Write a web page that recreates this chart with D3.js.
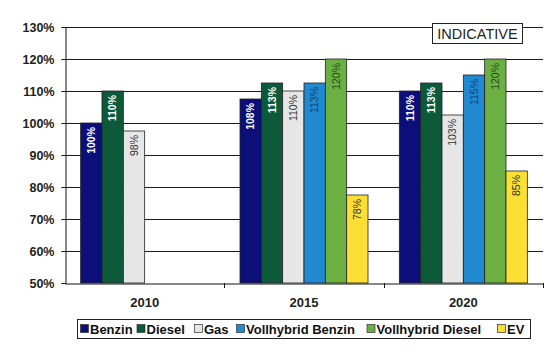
<!DOCTYPE html>
<html><head><meta charset="utf-8">
<script src="https://cdn.jsdelivr.net/npm/d3@7"></script>
<style>body{margin:0;background:#fff}svg{display:block;font-family:Arial,"Liberation Sans",sans-serif}</style>
</head><body><svg id="c" width="560" height="357"></svg>
<script>
const categories = ["2010","2015","2020"];
const seriesNames = ["Benzin","Diesel","Gas","Vollhybrid Benzin","Vollhybrid Diesel","EV"];
const benzin = [100, 107.5, 110];
const diesel = [110, 112.5, 112.5];
const gas = [97.5, 110, 102.5];
const vollBenzin = [null, 112.5, 115];
const vollDiesel = [null, 120, 120];
const ev = [null, 77.5, 85];
const yTicks = [50,60,70,80,90,100,110,120,130];
const colors = ["#0c0f7a","#0d5a3a","#e6e6e6","#2189cf","#6cb043","#fcdf35"];
const labelColors = ["#ffffff","#ffffff","#333333","#143f7a","#1d4d1d","#333333"];
const labelWeights = ["bold","bold","normal","normal","normal","normal"];
const values = [benzin, diesel, gas, vollBenzin, vollDiesel, ev];

const svg = d3.select("#c");
const L = 65, R = 543, T = 27, B = 283;
const y = d3.scaleLinear().domain([50,130]).range([B,T]);
const x0 = d3.scaleBand().domain(categories).range([L,R]).padding(0);
const x1 = d3.scaleBand().domain(seriesNames).range([0,x0.bandwidth()]).paddingInner(0).paddingOuter(0.734);

// gridlines
svg.append("g").selectAll("line").data(yTicks.slice(1)).join("line")
  .attr("x1",L).attr("x2",R).attr("y1",d=>Math.round(y(d))+0.5).attr("y2",d=>Math.round(y(d))+0.5)
  .attr("stroke","#1a1a1a").attr("stroke-width",1);

// bars
const data = [];
categories.forEach((c,i)=>seriesNames.forEach((s,j)=>{ if(values[j][i]!=null) data.push({c,s,j,v:values[j][i]}); }));
const g = svg.append("g");
g.selectAll("rect").data(data).join("rect")
  .attr("x",d=>x0(d.c)+x1(d.s)).attr("width",x1.bandwidth())
  .attr("y",d=>y(d.v)).attr("height",d=>y(50)-y(d.v))
  .attr("fill",d=>colors[d.j]).attr("stroke","#222").attr("stroke-width",0.8);
g.selectAll("text").data(data).join("text")
  .attr("transform",d=>`translate(${x0(d.c)+x1(d.s)+x1.bandwidth()/2+3.8},${y(d.v)+4}) rotate(-90)`)
  .attr("text-anchor","end").attr("font-size","10.5px")
  .attr("font-weight",d=>labelWeights[d.j]).attr("fill",d=>labelColors[d.j])
  .text(d=>Math.round(d.v)+"%");

// y axis
const ya = svg.append("g").attr("transform",`translate(${L+0.5},0)`)
  .call(d3.axisLeft(y).tickValues(yTicks).tickFormat(d=>d+"%").tickSize(4).tickPadding(7));
ya.select(".domain").attr("stroke","#111");
ya.selectAll(".tick line").attr("stroke","#111");
ya.selectAll("text").attr("font-size","12.5px").attr("font-weight","bold").attr("fill","#222").attr("font-family","Arial,'Liberation Sans',sans-serif");

// x axis
const xa = svg.append("g").attr("transform",`translate(0,${B+0.5})`)
  .call(d3.axisBottom(x0).tickSize(0).tickPadding(14));
xa.select(".domain").attr("stroke","#111");
xa.selectAll("text").attr("font-size","13px").attr("font-weight","bold").attr("fill","#222").attr("font-family","Arial,'Liberation Sans',sans-serif");
svg.append("g").selectAll("line").data(categories.slice(1).concat(["end"])).join("line")
  .attr("x1",d=>Math.round(d==="end"?R:x0(d))+0.5).attr("x2",d=>Math.round(d==="end"?R:x0(d))+0.5)
  .attr("y1",B).attr("y2",B+5).attr("stroke","#111");

// indicative box
svg.append("rect").attr("x",432.5).attr("y",23.5).attr("width",90).attr("height",20)
  .attr("fill","#fff").attr("stroke","#222");
svg.append("text").attr("x",477.5).attr("y",39).attr("text-anchor","middle")
  .attr("font-size","14.5px").attr("fill","#222").text("INDICATIVE");

// legend
const lg = svg.append("g");
lg.append("rect").attr("x",77.5).attr("y",319.5).attr("width",453).attr("height",19)
  .attr("fill","#fff").attr("stroke","#222");
const legX = [80,136.5,194,236,366.5,497];
const it = lg.selectAll("g").data(seriesNames).join("g")
  .attr("transform",(d,i)=>`translate(${legX[i]},0)`);
it.append("rect").attr("x",0.5).attr("y",324.5).attr("width",8).attr("height",8)
  .attr("fill",(d,i)=>colors[i]).attr("stroke","#333").attr("stroke-width",0.7);
it.append("text").attr("x",10).attr("y",333.5).attr("font-size","13px").attr("font-weight","bold")
  .attr("fill","#111").text(d=>d);
</script></body></html>
